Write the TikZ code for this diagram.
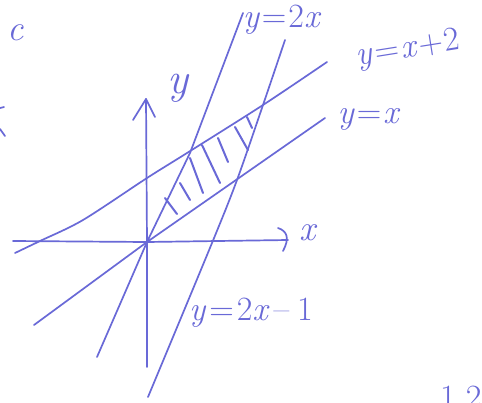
\documentclass[tikz,border=0pt]{standalone}
\begin{document}
\definecolor{ink}{RGB}{105,105,215}
\newcommand\hv[1]{\textit{#1}}
\newcommand\eqs{\kern2pt=\kern2pt}
\begin{tikzpicture}[x=1pt,y=-1pt,
  pen/.style={draw=ink, line width=1.7pt, line cap=round, line join=round},
  hatch/.style={draw=ink, line width=2pt, line cap=round},
  lbl/.style={text=ink, inner sep=0pt, font=\fontsize{34}{38}\selectfont}]
\useasboundingbox (0,0) rectangle (482,402);
\fill[white] (0,0) rectangle (482,402);
% named points
\coordinate (O) at (147,242);
\coordinate (xl) at (13,241);
\coordinate (xr) at (288,240);
\coordinate (yb) at (147,367);
\coordinate (yt) at (146,99);
% axes
\draw[pen] (xl) -- (O) -- (xr);
\draw[pen] (278,228) .. controls (287,231) and (290,238) .. (283,251);
\draw[pen] (yb) -- (O) -- (yt);
\draw[pen] (133,120) -- (yt) -- (155,117);
% y = x
\draw[pen] (34,325) -- (O) -- (325,118);
% y = 2x
\draw[pen] (97,357) -- (O) -- (190,153) -- (243,13);
% y = x + 2
\draw[pen] plot[smooth] coordinates {(15,253) (40,241) (83,220) (147,178) (187,153) (263,105) (327,62)};
% y = 2x - 1
\draw[pen] plot[smooth] coordinates {(148,397) (212,243) (237,180) (263,105) (285,40)};
% hatching
\draw[hatch] (165,198) -- (177,214);
\draw[hatch] (180,183) -- (190,200);
\draw[hatch] (190,158) -- (203,193);
\draw[hatch] (202,145) -- (220,183);
\draw[hatch] (218,138) -- (228,162);
\draw[hatch] (235,127) -- (248,150);
\draw[hatch] (247,117) -- (252,128);
% labels
\node[lbl] (l2x) at (282,20) {\hv{y}\eqs2\hv{x}};
\node[lbl, rotate=9] (lx2) at (408,50) {\hv{y}\eqs\hv{x}\kern1pt+\kern1pt2};
\node[lbl] (lx) at (369,119) {\hv{y}\eqs\hv{x}};
\node[lbl] (l2x1) at (251,313) {\hv{y}\kern1pt\eqs\kern1pt2\hv{x}\kern4pt\textendash\kern8pt1};
\node[lbl, font=\fontsize{44}{48}\selectfont] (ly) at (179,88) {\hv{y}};
\node[lbl, font=\fontsize{36}{40}\selectfont] (lxa) at (309,233) {\hv{x}};
% fragments at the edges
\node[lbl, font=\fontsize{36}{40}\selectfont] (fc) at (16,33) {\hv{c}};
\draw[pen] (0,108) -- (4,107);
\draw[pen] (0,129) -- (5,136);
\begin{scope}
\clip (0,0) rectangle (482,402);
\node[lbl, anchor=north west] (f12) at (440,386) {1\kern10pt2};
\end{scope}
\end{tikzpicture}
\end{document}
